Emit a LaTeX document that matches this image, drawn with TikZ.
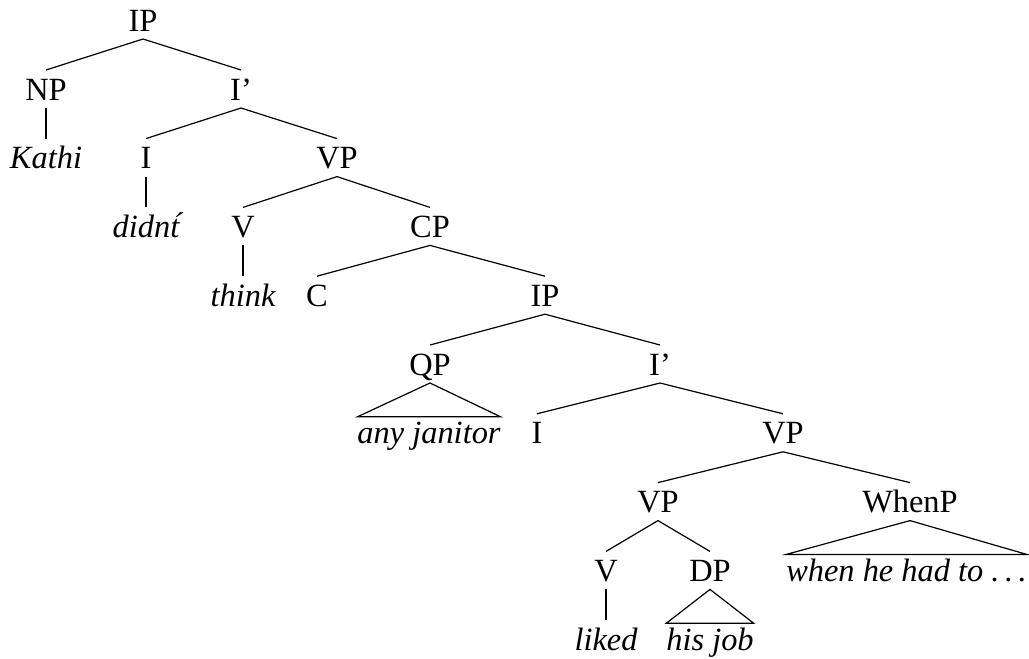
\documentclass[tikz,border=0pt]{standalone}
\usepackage{fontspec}
\setmainfont{Liberation Serif}
\newcommand\spaceddots{.\kern0.17em.\kern0.17em.}
\begin{document}
\begin{tikzpicture}[x=0.5pt,y=-0.5pt,
  lab/.style={inner sep=0pt, outer sep=0pt, anchor=base, font=\fontsize{16.2}{19}\selectfont, text height=15pt, text depth=4pt},
  word/.style={lab, font=\fontsize{16.2}{19}\selectfont\itshape},
  tri/.style={word, text height=13.5pt},
  edge/.style={line width=0.6pt}]
\useasboundingbox (0,0) rectangle (1029,659);
% row 0
\node[lab] (ip1) at (143,31) {IP};
% row 1
\node[lab] (np) at (46,100) {NP};
\node[lab] (ib1) at (241,100) {I’};
% row 2
\node[word] (kathi) at (46,168.6) {Kathi};
\node[lab] (i1) at (146,168.6) {I};
\node[lab] (vp1) at (337,168.6) {VP};
% row 3
\node[word] (didnt) at (146,237.4) {didn\'t};
\node[lab] (v1) at (243,237.4) {V};
\node[lab] (cp) at (430,237.4) {CP};
% row 4
\node[word] (think) at (243,306.2) {think};
\node[lab] (c) at (317,306.2) {C};
\node[lab] (ip2) at (545,306.2) {IP};
% row 5
\node[lab] (qp) at (430,375) {QP};
\node[lab] (ib2) at (660,375) {I’};
% row 6
\node[tri] (janitor) at (429,443.8) {any janitor};
\node[lab] (i2) at (537,443.8) {I};
\node[lab] (vp2) at (783,443.8) {VP};
% row 7
\node[lab] (vp3) at (658,512.6) {VP};
\node[lab] (whenp) at (910,512.6) {WhenP};
% row 8
\node[lab] (v2) at (606,581.4) {V};
\node[lab] (dp) at (710,581.4) {DP};
\node[tri] (when) at (906.5,581.4) {when he had to \spaceddots};
% row 9
\node[word] (liked) at (606,650.2) {liked};
\node[tri] (job) at (710,650.2) {his job};

\draw[edge] (np.north) -- (ip1.south) -- (ib1.north);
\draw[edge] (np.south) -- (kathi.north);
\draw[edge] (i1.north) -- (ib1.south) -- (vp1.north);
\draw[edge] (i1.south) -- (didnt.north);
\draw[edge] (v1.north) -- (vp1.south) -- (cp.north);
\draw[edge] (v1.south) -- (think.north);
\draw[edge] (c.north) -- (cp.south) -- (ip2.north);
\draw[edge] (qp.north) -- (ip2.south) -- (ib2.north);
\draw[edge] (qp.south) -- (janitor.north west) -- (janitor.north east) -- cycle;
\draw[edge] (i2.north) -- (ib2.south) -- (vp2.north);
\draw[edge] (vp3.north) -- (vp2.south) -- (whenp.north);
\draw[edge] (v2.north) -- (vp3.south) -- (dp.north);
\draw[edge] (whenp.south) -- (when.north west) -- (when.north east) -- cycle;
\draw[edge] (v2.south) -- (liked.north);
\draw[edge] (dp.south) -- (job.north west) -- (job.north east) -- cycle;
\end{tikzpicture}
\end{document}
